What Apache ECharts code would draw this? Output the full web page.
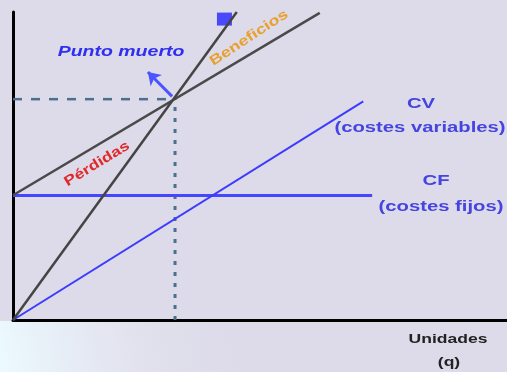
<!DOCTYPE html>
<html>
<head>
<meta charset="utf-8">
<script src="https://cdn.jsdelivr.net/npm/echarts@6/dist/echarts.min.js"></script>
<style>
html,body{margin:0;padding:0;background:#dddbe9;}
#c{width:507px;height:372px;}
</style>
</head>
<body>
<div id="c"></div>
<script>
// Data (units on a 0-100 scale for both axes)
const revenue = [[0, 0], [45.3, 100]];
const totalCost = [[0, 40.5], [62.1, 99.7]];
const variableCost = [[0, 0], [70.9, 71]];
const fixedCost = [[0, 40.4], [72.7, 40.4]];
const breakEven = [32.8, 71.7];
const arrowFrom = [32.2, 72.6];
const arrowTo = [27.3, 80.5];
const incomeMarker = [[42.8, 97.7]];

const chart = echarts.init(document.getElementById('c'));
const bg = '#dddbe9';
const guide = '#4a7090';
const F = '"Liberation Sans", Arial, sans-serif';

function txt(x, y, text, fill, size, opts) {
  return Object.assign({
    type: 'text', x: x, y: y, scaleX: 1.35,
    style: {text: text, fill: fill, font: 'bold ' + size + 'px ' + F, align: 'center', verticalAlign: 'middle'}
  }, opts || {});
}

chart.setOption({
  backgroundColor: bg,
  animation: false,
  grid: {left: 13, right: 0, top: 12, bottom: 52},
  xAxis: {
    type: 'value', min: 0, max: 100,
    axisLine: {show: true, onZero: false, lineStyle: {color: '#000', width: 3}},
    axisTick: {show: false}, axisLabel: {show: false}, splitLine: {show: false}
  },
  yAxis: {
    type: 'value', min: 0, max: 100,
    axisLine: {show: true, onZero: false, lineStyle: {color: '#000', width: 3}},
    axisTick: {show: false}, axisLabel: {show: false}, splitLine: {show: false}
  },
  graphic: [
    {
      type: 'rect', z: -10, silent: true,
      shape: {x: 0, y: 321, width: 507, height: 51},
      style: {
        fill: new echarts.graphic.LinearGradient(0, 1, 0.5, 0, [
          {offset: 0, color: 'rgba(236,250,255,1)'},
          {offset: 0.4, color: 'rgba(230,234,244,0.8)'},
          {offset: 1, color: 'rgba(221,219,233,0)'}
        ])
      }
    },
    {
      type: 'text', x: 121, y: 52, scaleX: 1.3,
      style: {text: 'Punto muerto', fill: '#2f2ff0', font: 'italic bold 15px ' + F, align: 'center', verticalAlign: 'middle'}
    },
    txt(249, 38, 'Beneficios', '#e8a030', 14, {rotation: 0.58, scaleX: 1.28}),
    txt(97, 164, 'Pérdidas', '#e02a2a', 14, {rotation: 0.55, scaleX: 1.25}),
    txt(421, 104, 'CV', '#4444e0', 15),
    txt(420, 128, '(costes variables)', '#4444e0', 15),
    txt(436, 181, 'CF', '#4444e0', 15),
    txt(441, 207, '(costes fijos)', '#4444e0', 15),
    txt(448, 339, 'Unidades', '#222', 13),
    txt(449, 362, '(q)', '#222', 13)
  ],
  series: [
    {
      type: 'line', data: [[0, breakEven[1]], breakEven], symbol: 'none',
      lineStyle: {color: guide, width: 2.5, type: [9, 9]}, z: 1
    },
    {
      type: 'line', data: [[breakEven[0], 0], breakEven], symbol: 'none',
      lineStyle: {color: guide, width: 3, type: [4, 7]}, z: 1
    },
    {
      type: 'line', data: fixedCost, symbol: 'none',
      lineStyle: {color: '#4646ff', width: 3}, z: 2
    },
    {
      type: 'line', data: variableCost, symbol: 'none',
      lineStyle: {color: '#3c3cff', width: 2}, z: 2
    },
    {
      type: 'scatter', data: incomeMarker, symbol: 'rect', symbolSize: [15, 13],
      itemStyle: {color: '#2424ff'}, z: 2
    },
    {
      type: 'line', data: totalCost, symbol: 'none',
      lineStyle: {color: '#4a4a4a', width: 2.5}, z: 3
    },
    {
      type: 'line', data: revenue, symbol: 'none',
      lineStyle: {color: '#444', width: 2.5}, z: 3,
      markLine: {
        silent: true, symbol: ['none', 'arrow'], symbolSize: 12,
        label: {show: false},
        lineStyle: {color: '#4a55ff', width: 3, type: 'solid'},
        data: [[{coord: arrowFrom}, {coord: arrowTo}]]
      }
    }
  ]
});
</script>
</body>
</html>
